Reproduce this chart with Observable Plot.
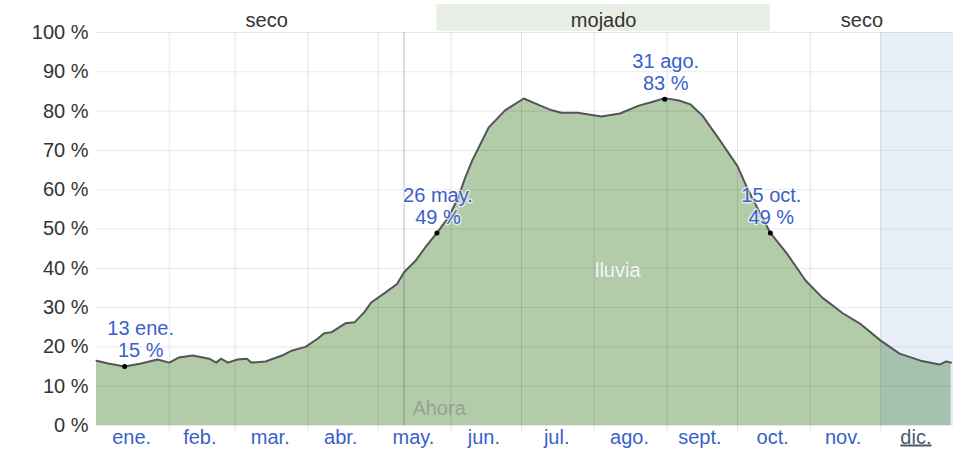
<!DOCTYPE html>
<html>
<head>
<meta charset="utf-8">
<script src="https://cdn.jsdelivr.net/npm/d3@7"></script>
<script src="https://cdn.jsdelivr.net/npm/@observablehq/plot@0.6"></script>
<style>
  html, body { margin: 0; padding: 0; background: #fff; overflow: hidden; }
</style>
</head>
<body>
<div id="chart"></div>
<script>
// ---- data ----
const dates = ["2023-01-01","2023-01-06","2023-01-13","2023-01-20","2023-01-27","2023-02-01","2023-02-05","2023-02-11","2023-02-18","2023-02-21","2023-02-23","2023-02-26","2023-03-02","2023-03-06","2023-03-08","2023-03-14","2023-03-21","2023-03-25","2023-03-31","2023-04-05","2023-04-08","2023-04-11","2023-04-17","2023-04-21","2023-04-25","2023-04-28","2023-05-04","2023-05-09","2023-05-12","2023-05-17","2023-05-21","2023-05-26","2023-05-31","2023-06-04","2023-06-07","2023-06-10","2023-06-17","2023-06-24","2023-07-02","2023-07-09","2023-07-14","2023-07-18","2023-07-25","2023-08-04","2023-08-12","2023-08-20","2023-08-26","2023-08-31","2023-09-06","2023-09-11","2023-09-16","2023-09-23","2023-10-01","2023-10-05","2023-10-15","2023-10-22","2023-10-30","2023-11-06","2023-11-15","2023-11-22","2023-12-01","2023-12-09","2023-12-18","2023-12-26","2023-12-29","2023-12-31"];
const rain = [16.5,15.8,15,15.8,16.8,16,17.3,17.8,17,16,17,16,16.8,17,16,16.3,17.8,19,20,22,23.5,23.7,26,26.3,28.8,31.3,33.8,36,39,42,45.3,49,53,58,63,67.4,75.8,80.2,83.2,81.4,80.2,79.6,79.6,78.6,79.4,81.4,82.4,83.3,82.7,81.7,78.9,73,66,60.6,49,43.8,36.9,32.6,28.5,26,21.6,18.3,16.5,15.5,16.3,16];

const monthStarts = ["2023-01-01","2023-02-01","2023-03-01","2023-04-01","2023-05-01","2023-06-01","2023-07-01","2023-08-01","2023-09-01","2023-10-01","2023-11-01","2023-12-01"];
const monthMids = ["2023-01-16","2023-02-14","2023-03-16","2023-04-15","2023-05-16","2023-06-15","2023-07-16","2023-08-16","2023-09-15","2023-10-16","2023-11-15","2023-12-16"];
const monthLabels = ["ene.","feb.","mar.","abr.","may.","jun.","jul.","ago.","sept.","oct.","nov.","dic."];

const yTicks = [0,10,20,30,40,50,60,70,80,90,100];

const seasonNames = ["seco","mojado","seco"];
const seasonStart = ["2023-01-01","2023-05-26","2023-10-15"];
const seasonEnd = ["2023-05-26","2023-10-15","2024-01-01"];
const seasonWet = [false,true,false];

const hlDates = ["2023-01-13","2023-05-26","2023-08-31","2023-10-15"];
const hlValues = [15,49,83,49];
const hlLabels = ["13 ene.\n15 %","26 may.\n49 %","31 ago.\n83 %","15 oct.\n49 %"];

const nowDate = "2023-05-12";
const seriesName = "lluvia";
const nowLabel = "Ahora";
const currentMonth = ["2023-12-01","2024-01-01"];

// ---- tables ----
const P = d => new Date(d + "T00:00:00Z");
const data = dates.map((d,i) => ({date: P(d), v: rain[i]}));
const months = monthMids.map((d,i) => ({mid: P(d), label: monthLabels[i], cur: i === 11}));
const seasons = seasonNames.map((n,i) => ({name: n, x1: P(seasonStart[i]), x2: P(seasonEnd[i]), wet: seasonWet[i], xm: new Date((P(seasonStart[i]).getTime() + P(seasonEnd[i]).getTime())/2)}));
const hl = hlDates.map((d,i) => ({date: P(d), v: hlValues[i], label: hlLabels[i]}));

const blue = "#3a5fcb";
const font = "'Liberation Sans', Arial, sans-serif";

const chart = Plot.plot({
  width: 955,
  height: 451,
  marginLeft: 96,
  marginRight: 2,
  marginTop: 32,
  marginBottom: 26,
  style: {fontFamily: font, fontSize: "20px", background: "#fff"},
  x: {type: "utc", domain: [P("2023-01-01"), P("2024-01-01")], axis: null},
  y: {domain: [0, 100], axis: null, label: null},
  marks: [
    // season band
    Plot.rect(seasons.filter(s => s.wet), {x1: "x1", x2: "x2", y1: 100.3, y2: 107.1, fill: "#e9efe5"}),
    Plot.text(seasons, {x: "xm", y: 100, dy: -6, lineAnchor: "bottom", text: "name", fill: "#333", fontSize: 20}),
    // area
    Plot.areaY(data, {x: "date", y: "v", fill: "#b2cba8"}),
    // grid
    Plot.ruleY(yTicks, {stroke: "#000", strokeOpacity: 0.09}),
    Plot.ruleX(monthStarts.slice(1).map(P), {y1: -1.6, y2: 100, stroke: "#000", strokeOpacity: 0.1}),
    // current month overlay
    Plot.rect([0], {x1: P(currentMonth[0]), x2: P(currentMonth[1]), y1: 0, y2: 100, fill: "rgb(100,140,210)", fillOpacity: 0.15}),
    // now line
    Plot.ruleX([P(nowDate)], {y1: 0, y2: 100, stroke: "#000", strokeOpacity: 0.22, strokeWidth: 1.2}),
    Plot.text([0], {x: P(nowDate), y: 0, dx: 35, dy: -11, lineAnchor: "bottom", text: [nowLabel], fill: "#808080", fillOpacity: 0.55, fontSize: 20}),
    // series label
    Plot.text([0], {x: P("2023-08-11"), y: 37.7, lineAnchor: "bottom", text: [seriesName], fill: "#fff", fillOpacity: 0.85, fontSize: 20}),
    // line
    Plot.lineY(data, {x: "date", y: "v", stroke: "#555", strokeWidth: 2}),
    // highlights
    Plot.dot(hl, {x: "date", y: "v", r: 2.5, fill: "#000"}),
    Plot.text(hl.slice(0,1), {x: "date", y: "v", dx: 16, dy: -10, lineAnchor: "bottom", lineHeight: 1.1, text: "label", fill: blue, stroke: "#fff", strokeWidth: 3, strokeOpacity: 0.6, fontSize: 20}),
    Plot.text(hl.slice(1), {x: "date", y: "v", dx: 1, dy: -9, lineAnchor: "bottom", lineHeight: 1.1, text: "label", fill: blue, stroke: "#fff", strokeWidth: 3, strokeOpacity: 0.6, fontSize: 20}),
    // axes
    Plot.axisY(yTicks, {tickSize: 0, tickPadding: 8, tickFormat: d => d + " %", fontSize: 20, color: "#333", anchor: "left", label: null}),
    Plot.text(months, {x: "mid", y: 0, dy: 18, lineAnchor: "bottom", text: "label", fill: d => d.cur ? "#4b5a6e" : blue, fontSize: 20})
  ]
});

d3.select(chart).selectAll("text").filter(function() { return this.textContent === "dic."; })
  .style("text-decoration", "underline");

document.getElementById("chart").appendChild(chart);
</script>
</body>
</html>
